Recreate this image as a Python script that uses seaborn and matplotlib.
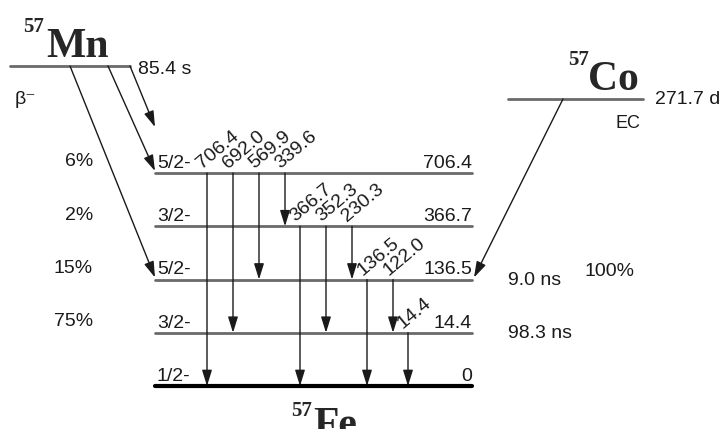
import matplotlib
matplotlib.use("Agg")
import matplotlib.pyplot as plt
import pandas as pd
import seaborn as sns

# 57Fe levels (keV), top to bottom
level_energy = [706.4, 366.7, 136.5, 14.4, 0.0]
level_spin = ["5/2-", "3/2-", "5/2-", "3/2-", "1/2-"]
beta_feed = ["6%", "2%", "15%", "75%", ""]
level_halflife = ["", "", "9.0 ns", "98.3 ns", ""]

# gamma transitions (keV): energy, start level, end level
gamma_energy = [706.4, 692.0, 569.9, 339.6, 366.7, 352.3, 230.3, 136.5, 122.0, 14.4]
gamma_from = [706.4, 706.4, 706.4, 706.4, 366.7, 366.7, 366.7, 136.5, 136.5, 14.4]
gamma_to = [0.0, 14.4, 136.5, 366.7, 0.0, 14.4, 136.5, 0.0, 14.4, 0.0]

# parents
mn_halflife = "85.4 s"
mn_mode = "β⁻"
mn_fed_levels = [706.4, 136.5]
co_halflife = "271.7 d"
co_mode = "EC"
co_fed_level = 136.5
co_feed = "100%"

#### layout ####
X_LEFT, X_RIGHT = 155, 472
Y_TOP, Y_STEP = 173, 53.25
MN_Y, CO_Y = 66, 99
SANS = ["Liberation Sans", "DejaVu Sans"]
SERIF = ["Liberation Serif", "DejaVu Serif"]
GREY = "#6a6a6a"
INK = "#1a1a1a"
FS = 14

sns.set_theme(style="white")
plt.rcParams["font.family"] = SANS

fig = plt.figure(figsize=(7.27, 4.29), dpi=100)
ax = fig.add_axes([0, 0, 1, 1])

level_y = {e: Y_TOP + i * Y_STEP for i, e in enumerate(level_energy)}

# level lines with seaborn
rows = []
for e in level_energy[:-1]:
    rows += [dict(x=X_LEFT, y=level_y[e], lev=str(e)), dict(x=X_RIGHT, y=level_y[e], lev=str(e))]
rows += [dict(x=10, y=MN_Y, lev="Mn"), dict(x=130, y=MN_Y, lev="Mn")]
rows += [dict(x=508, y=CO_Y, lev="Co"), dict(x=643, y=CO_Y, lev="Co")]
levels_df = pd.DataFrame(rows)
sns.lineplot(data=levels_df, x="x", y="y", units="lev", estimator=None, sort=False,
             color=GREY, lw=2, ax=ax)
ground = pd.DataFrame(dict(x=[X_LEFT, X_RIGHT], y=[level_y[0.0]] * 2))
sns.lineplot(data=ground, x="x", y="y", color="black", lw=3, ax=ax)


def arrow(start, end):
    ax.annotate("", xy=end, xytext=start,
                arrowprops=dict(arrowstyle="-|>,head_length=0.8,head_width=0.25",
                                color=INK, lw=1, shrinkA=0, shrinkB=0,
                                mutation_scale=12))


# level labels
for e, spin, feed, hl in zip(level_energy, level_spin, beta_feed, level_halflife):
    y = level_y[e]
    ax.text(X_LEFT + 2, y - 5, spin, fontsize=FS, ha="left", va="baseline", color=INK)
    ax.text(X_RIGHT, y - 5, f"{e:g}" if e else "0", fontsize=FS, ha="right",
            va="baseline", color=INK)
    if feed:
        ax.text(93, y - 11, feed, fontsize=FS, ha="right", va="center", color=INK)
    if hl:
        ax.text(508, y + 1, hl, fontsize=FS, ha="left", va="center", color=INK)

# gamma arrows
x = 207
prev = None
for eg, ef, et in zip(gamma_energy, gamma_from, gamma_to):
    if prev is not None:
        x += 26 if ef == prev else 15
    prev = ef
    arrow((x, level_y[ef]), (x, level_y[et]))
    ax.text(x - 5, level_y[ef] - 4, f"{eg:.1f}", fontsize=FS, rotation=40,
            rotation_mode="anchor", ha="left", va="baseline", color=INK)

# 57Mn beta decay
for start_x, e in zip([108, 70], mn_fed_levels):
    arrow((start_x, MN_Y), (X_LEFT, level_y[e] - 2))
arrow((130, MN_Y), (155, 127))
ax.text(138, MN_Y + 4, mn_halflife, fontsize=FS, ha="left", va="center", color=INK)
ax.text(15, 100, mn_mode, fontsize=FS, ha="left", va="center", color=INK)
ax.text(44, 17, "57", fontsize=15, fontweight="bold", family=SERIF, ha="right", va="top")
ax.text(46, 57, "Mn", fontsize=30, fontweight="bold", family=SERIF, ha="left", va="baseline")

# 57Co electron capture
arrow((563, CO_Y), (X_RIGHT + 2, level_y[co_fed_level] - 2))
ax.text(655, CO_Y, co_halflife, fontsize=FS, ha="left", va="center", color=INK)
ax.text(640, 124, co_mode, fontsize=13, ha="right", va="center", color=INK)
ax.text(585, 272, co_feed, fontsize=FS, ha="left", va="center", color=INK)
ax.text(589, 50, "57", fontsize=15, fontweight="bold", family=SERIF, ha="right", va="top")
ax.text(588, 90, "Co", fontsize=30, fontweight="bold", family=SERIF, ha="left", va="baseline")

# 57Fe daughter
ax.text(312, 401, "57", fontsize=15, fontweight="bold", family=SERIF, ha="right", va="top")
ax.text(313, 436, "Fe", fontsize=30, fontweight="bold", family=SERIF, ha="left", va="baseline")

ax.set_xlim(0, 727)
ax.set_ylim(429, 0)
ax.axis("off")
fig.savefig("out.png", dpi=100, facecolor="white")
